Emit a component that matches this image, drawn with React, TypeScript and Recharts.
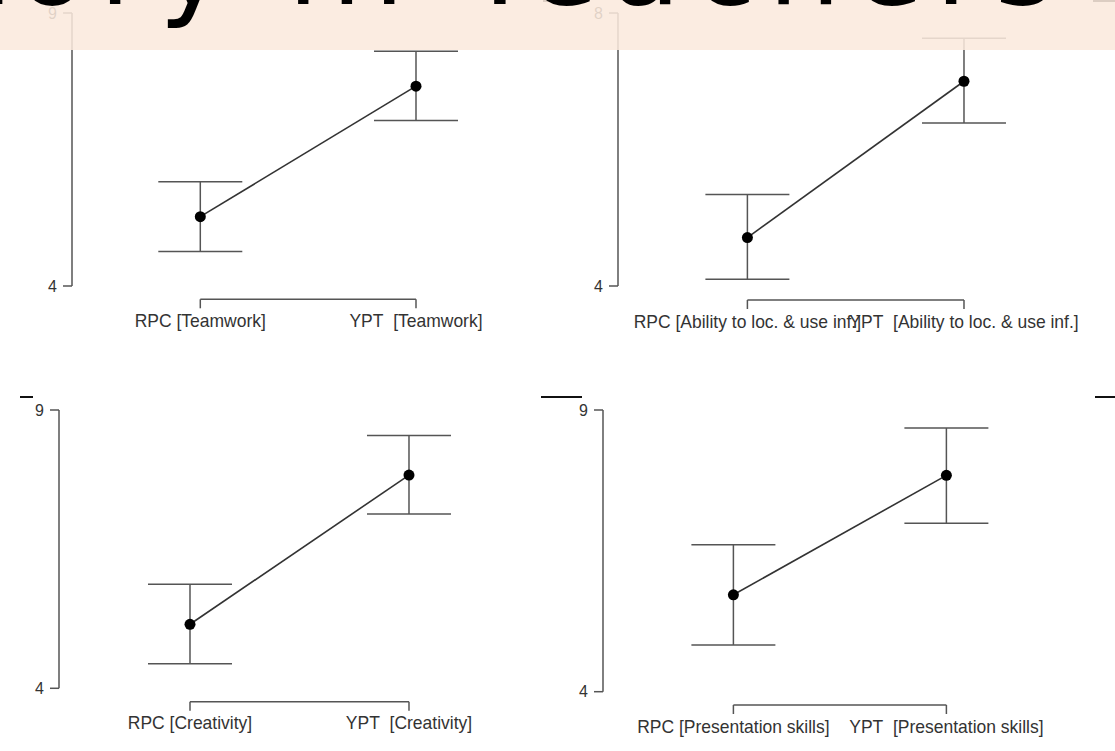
import React from "react";
import { LineChart, Line, XAxis, YAxis, ErrorBar, ReferenceLine } from "recharts";

// ---------- data ----------
const teamworkLabels = ["RPC [Teamwork]", "YPT\u00a0 [Teamwork]"];
const teamworkMean = [5.27, 7.66];
const teamworkLower = [4.63, 7.03];
const teamworkUpper = [5.91, 8.3];
const teamworkTicks = [4, 9];

const abilityLabels = ["RPC [Ability to loc. & use inf.]", "YPT\u00a0 [Ability to loc. & use inf.]"];
const abilityMean = [4.71, 7.0];
const abilityLower = [4.1, 6.39];
const abilityUpper = [5.34, 7.63];
const abilityTicks = [4, 8];

const creativityLabels = ["RPC [Creativity]", "YPT\u00a0 [Creativity]"];
const creativityMean = [5.15, 7.83];
const creativityLower = [4.44, 7.13];
const creativityUpper = [5.87, 8.54];
const creativityTicks = [4, 9];

const presentationLabels = ["RPC [Presentation skills]", "YPT\u00a0 [Presentation skills]"];
const presentationMean = [5.72, 7.84];
const presentationLower = [4.83, 6.99];
const presentationUpper = [6.61, 8.68];
const presentationTicks = [4, 9];

const bannerTitle = "tory in Teachers";

// ---------- styling ----------
const FONT = '"Liberation Sans", Arial, Helvetica, sans-serif';
const AXIS = "#555";
const YW = 60;
const MT = 12;
const MR = 100;
const XH = 40;
const MB = 5;

type Geo = {
  axisX: number;
  yTopPx: number;
  yBotPx: number;
  bracketPx: number;
  rpcX: number;
  yptX: number;
  plotRight: number;
};

function Panel(props: {
  labels: string[];
  mean: number[];
  lower: number[];
  upper: number[];
  ticks: number[];
  geo: Geo;
}) {
  const { labels, mean, lower, upper, ticks, geo } = props;
  const yMin = ticks[0];
  const yMax = ticks[ticks.length - 1];
  const pxPerY = (geo.yBotPx - geo.yTopPx) / (yMax - yMin);
  const yLow = yMin - (geo.bracketPx - geo.yBotPx) / pxPerY;
  const pxPerX = geo.yptX - geo.rpcX;
  const xMin = -(geo.rpcX - geo.axisX) / pxPerX;
  const xMax = (geo.plotRight - geo.rpcX) / pxPerX;
  const plotW = geo.plotRight - geo.axisX;
  const plotH = geo.bracketPx - geo.yTopPx;
  const width = YW + plotW + MR;
  const height = MT + plotH + XH + MB;

  const data = mean.map((m, i) => ({
    x: i,
    y: m,
    err: [m - lower[i], upper[i] - m],
  }));

  const XTick = (p: any) => {
    const idx = p.payload.value;
    return (
      <text
        x={p.x}
        y={p.y}
        dy="0.78em"
        textAnchor="middle"
        fontFamily={FONT}
        fontSize={17.5}
        fill="#333"
      >
        {labels[idx]}
      </text>
    );
  };

  return (
    <div
      style={{
        position: "absolute",
        left: geo.axisX - YW,
        top: geo.yTopPx - MT,
        width,
        height,
      }}
    >
      <LineChart
        width={width}
        height={height}
        data={data}
        margin={{ top: MT, right: MR, bottom: MB, left: 0 }}
      >
        <XAxis
          type="number"
          dataKey="x"
          domain={[xMin, xMax]}
          allowDataOverflow
          ticks={[0, 1]}
          interval={0}
          axisLine={false}
          tickLine={{ stroke: AXIS, strokeWidth: 1.5 }}
          tickSize={9}
          tickMargin={5}
          height={XH}
          tick={XTick}
        />
        <YAxis
          type="number"
          domain={[yLow, yMax]}
          allowDataOverflow
          ticks={ticks}
          interval={0}
          axisLine={false}
          tickLine={{ stroke: AXIS, strokeWidth: 1.5 }}
          tickSize={9}
          tickMargin={6}
          width={YW}
          tick={{ fontFamily: FONT, fontSize: 16, fill: "#333" }}
        />
        <ReferenceLine
          segment={[
            { x: xMin, y: yMin },
            { x: xMin, y: yMax },
          ]}
          stroke={AXIS}
          strokeWidth={1.5}
          ifOverflow="visible"
        />
        <ReferenceLine
          segment={[
            { x: 0, y: yLow },
            { x: 1, y: yLow },
          ]}
          stroke={AXIS}
          strokeWidth={1.5}
          ifOverflow="visible"
        />
        <Line
          dataKey="y"
          stroke="#333"
          strokeWidth={1.6}
          isAnimationActive={false}
          dot={{ r: 5.5, fill: "#000", stroke: "#000", strokeWidth: 0 }}
          activeDot={false}
        >
          <ErrorBar
            dataKey="err"
            direction="y"
            width={42}
            stroke={AXIS}
            strokeWidth={1.5}
            isAnimationActive={false}
          />
        </Line>
      </LineChart>
    </div>
  );
}

const dash = (left: number, top: number, w: number) => (
  <div
    style={{
      position: "absolute",
      left,
      top,
      width: w,
      height: 2,
      background: "#111",
    }}
  />
);

export default function App() {
  return (
    <div
      style={{
        position: "absolute",
        left: 0,
        top: 0,
        width: 1115,
        height: 751,
        overflow: "hidden",
        background: "#fff",
      }}
    >
      <Panel
        labels={teamworkLabels}
        mean={teamworkMean}
        lower={teamworkLower}
        upper={teamworkUpper}
        ticks={teamworkTicks}
        geo={{ axisX: 72, yTopPx: 13, yBotPx: 286, bracketPx: 299.3, rpcX: 200.3, yptX: 416, plotRight: 480 }}
      />
      <Panel
        labels={abilityLabels}
        mean={abilityMean}
        lower={abilityLower}
        upper={abilityUpper}
        ticks={abilityTicks}
        geo={{ axisX: 618.3, yTopPx: 13, yBotPx: 286, bracketPx: 300, rpcX: 747.7, yptX: 964.3, plotRight: 1020 }}
      />
      <Panel
        labels={creativityLabels}
        mean={creativityMean}
        lower={creativityLower}
        upper={creativityUpper}
        ticks={creativityTicks}
        geo={{ axisX: 59.3, yTopPx: 410, yBotPx: 688.3, bracketPx: 701.7, rpcX: 190.3, yptX: 409.3, plotRight: 470 }}
      />
      <Panel
        labels={presentationLabels}
        mean={presentationMean}
        lower={presentationLower}
        upper={presentationUpper}
        ticks={presentationTicks}
        geo={{ axisX: 603.3, yTopPx: 410, yBotPx: 691.7, bracketPx: 705, rpcX: 733.7, yptX: 946.7, plotRight: 1010 }}
      />
      {dash(20, 396, 13)}
      {dash(541, 396, 41)}
      {dash(1095, 396, 20)}
      {dash(543, 0, 15)}
      {dash(1093, 0, 22)}
      <div
        style={{
          position: "absolute",
          left: 0,
          top: 0,
          width: 1115,
          height: 50,
          background: "rgba(250, 233, 220, 0.87)",
          overflow: "hidden",
        }}
      >
        <svg width={1115} height={50} style={{ display: "block" }}>
          <text
            x={-40}
            y={4}
            fontFamily='"DejaVu Sans", sans-serif'
            fontSize={115}
            fill="#000"
            letterSpacing={12}
          >
            {bannerTitle}
          </text>
        </svg>
      </div>
    </div>
  );
}
